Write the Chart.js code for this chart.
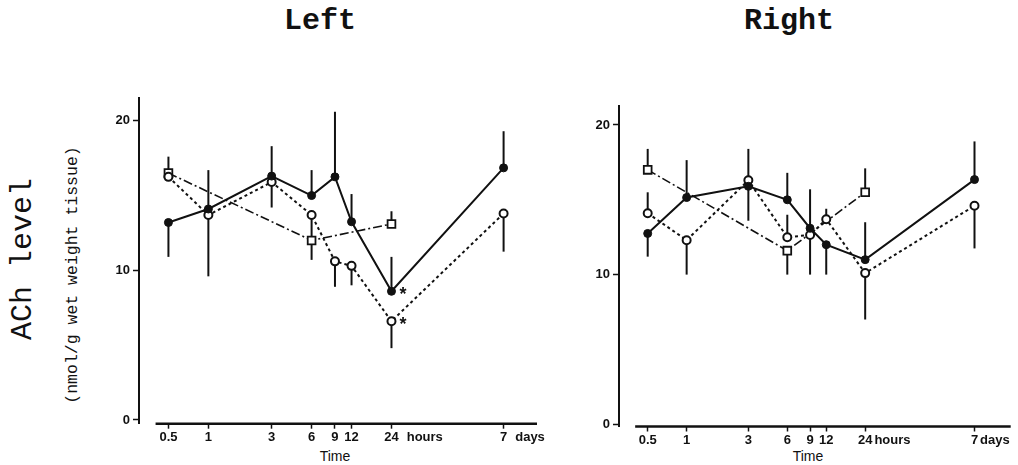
<!DOCTYPE html>
<html>
<head>
<meta charset="utf-8">
<script src="https://cdn.jsdelivr.net/npm/chart.js@4.4.1/dist/chart.umd.min.js"></script>
<style>
  html, body { margin: 0; padding: 0; background: #fff; }
  #page { position: relative; width: 1018px; height: 465px; overflow: hidden; color: #111; }
  .panel { position: absolute; top: 0; height: 465px; }
  .title { position: absolute; top: 4px; font: bold 30px 'Liberation Mono', monospace; transform: translateX(-50%); white-space: nowrap; }
  .rot { position: absolute; transform: translate(-50%, -50%) rotate(-90deg); white-space: nowrap; font-family: 'Liberation Mono', monospace; }
  .xtitle { position: absolute; top: 448px; font: 14px 'Liberation Sans', sans-serif; transform: translateX(-50%); }
</style>
</head>
<body>
<div id="page">
  <div class="title" style="left:320px">Left</div>
  <div class="title" style="left:789px">Right</div>
  <div class="rot" style="left:23px; top:259px; font-size:30px">ACh level</div>
  <div class="rot" style="left:72px; top:275px; font-size:16.5px">(nmol/g wet weight tissue)</div>
  <div class="xtitle" style="left:335px">Time</div>
  <div class="xtitle" style="left:808px">Time</div>
  <div class="panel" style="left:0; width:560px"><canvas id="left"></canvas></div>
  <div class="panel" style="left:560px; width:458px"><canvas id="right"></canvas></div>
</div>
<script>
// time after treatment, hours (7 days = 168 h)
const hours = [0.5, 1, 3, 6, 9, 12, 24, 168];
const hourLabels = ['0.5', '1', '3', '6', '9', '12', '24', '7'];
const hourUnits = ['', '', '', '', '', '', 'hours', 'days'];
const squareHours = [0.5, 6, 24];
const yTicks = [0, 10, 20];

// Left — errors are signed: + bar drawn upward, - downward
const leftFilled = [13.2, 14.1, 16.3, 15.0, 16.25, 13.25, 8.6, 16.85];
const leftFilledErr = [-2.3, 2.6, 2.0, 1.7, 4.35, 1.85, 2.3, 2.45];
const leftOpen = [16.25, 13.7, 15.9, 13.7, 10.6, 10.3, 6.6, 13.8];
const leftOpenErr = [0, -4.1, -1.7, -3.0, -1.7, -1.3, -1.8, -2.55];
const leftSquare = [16.5, 12.0, 13.1];
const leftSquareErr = [1.1, 0, 0.85];
const leftStars = [6];

// Right
const rightFilled = [12.75, 15.15, 15.9, 15.0, 13.1, 12.0, 11.0, 16.35];
const rightFilledErr = [-1.55, 2.5, -2.3, 1.8, 2.6, -2.0, 2.5, 2.55];
const rightOpen = [14.1, 12.3, 16.3, 12.5, 12.65, 13.7, 10.1, 14.6];
const rightOpenErr = [1.4, -2.3, 2.1, 1.5, -2.65, 0.7, -3.1, -2.85];
const rightSquare = [17.0, 11.6, 15.5];
const rightSquareErr = [1.4, -1.6, 1.6];
const rightStars = [];

const INK = '#111';
const TICK_FONT = { family: "'Liberation Sans', sans-serif", size: 13, weight: 'bold' };

const extras = {
  id: 'extras',
  beforeDatasetsDraw(chart) {
    const { ctx, chartArea, scales: { x, y } } = chart;
    ctx.save();
    ctx.strokeStyle = INK;
    ctx.lineWidth = 2;
    // error bars, one-sided
    chart.data.datasets.forEach((ds) => {
      ds.data.forEach((p, i) => {
        const e = ds.errors[i];
        if (!e) return;
        const px = x.getPixelForValue(p.x);
        ctx.beginPath();
        ctx.moveTo(px, y.getPixelForValue(p.y));
        ctx.lineTo(px, y.getPixelForValue(p.y + e));
        ctx.stroke();
      });
    });
    // time axis line, starts a bit right of the y axis
    ctx.lineWidth = 2.5;
    ctx.beginPath();
    ctx.moveTo(x.getPixelForValue(chart.options.axisStart), chartArea.bottom);
    ctx.lineTo(chartArea.right, chartArea.bottom);
    ctx.stroke();
    ctx.restore();
  },
  afterDatasetsDraw(chart) {
    const { ctx, scales: { x, y } } = chart;
    ctx.save();
    ctx.fillStyle = INK;
    ctx.font = "bold 18px 'Liberation Sans', sans-serif";
    ctx.textBaseline = 'middle';
    chart.data.datasets.forEach((ds) => {
      (ds.stars || []).forEach((i) => {
        const p = ds.data[i];
        ctx.fillText('*', x.getPixelForValue(p.x) + 8, y.getPixelForValue(p.y) + 4);
      });
    });
    // units after the "24" and "7" tick labels
    const xo = chart.options.scales.x;
    ctx.font = `${TICK_FONT.weight} ${TICK_FONT.size}px ${TICK_FONT.family}`;
    ctx.textBaseline = 'middle';
    const ty = x.top + xo.grid.tickLength + xo.ticks.padding + TICK_FONT.size * 1.2 / 2;
    hours.forEach((h, i) => {
      if (!hourUnits[i]) return;
      const w = ctx.measureText(hourLabels[i]).width;
      ctx.fillText(hourUnits[i], x.getPixelForValue(h) + w / 2 + chart.options.unitGap, ty);
    });
    ctx.restore();
  },
};

function makePanel(canvas, d) {
  const datasets = [
    {
      label: 'filled',
      data: hours.map((h, i) => ({ x: h, y: d.filled[i] })),
      errors: d.filledErr,
      stars: d.stars,
      borderColor: INK,
      borderWidth: 2,
      pointRadius: 4,
      pointBackgroundColor: INK,
      pointBorderColor: INK,
      pointBorderWidth: 1,
    },
    {
      label: 'open',
      data: hours.map((h, i) => ({ x: h, y: d.open[i] })),
      errors: d.openErr,
      stars: d.stars,
      borderColor: INK,
      borderWidth: 2,
      borderDash: [3, 3],
      pointRadius: 4,
      pointBackgroundColor: '#fff',
      pointBorderColor: INK,
      pointBorderWidth: 2,
    },
    {
      label: 'square',
      data: squareHours.map((h, i) => ({ x: h, y: d.square[i] })),
      errors: d.squareErr,
      borderColor: INK,
      borderWidth: 1.6,
      borderDash: [9, 3, 2, 3],
      pointStyle: 'rect',
      pointRadius: 5.5,
      pointBackgroundColor: '#fff',
      pointBorderColor: INK,
      pointBorderWidth: 1.8,
    },
  ];

  return new Chart(canvas, {
    type: 'line',
    data: { datasets },
    plugins: [extras],
    options: {
      responsive: true,
      maintainAspectRatio: false,
      animation: false,
      axisStart: 0.4,
      unitGap: d.unitGap,
      layout: { padding: d.padding },
      plugins: { legend: { display: false }, tooltip: { enabled: false } },
      scales: {
        x: {
          type: 'logarithmic',
          min: d.xMin,
          max: d.xMax,
          afterBuildTicks: (s) => { s.ticks = hours.map((v) => ({ value: v })); },
          afterFit: (s) => { s.height = d.xHeight; },
          border: { display: false },
          grid: { drawOnChartArea: false, drawTicks: true, tickLength: 5, tickColor: INK, tickWidth: 1.5 },
          ticks: {
            autoSkip: false,
            maxRotation: 0,
            padding: 1,
            color: INK,
            font: TICK_FONT,
            callback: (v, i) => hourLabels[i],
          },
        },
        y: {
          min: d.yMin,
          max: d.yMax,
          afterBuildTicks: (s) => { s.ticks = yTicks.map((v) => ({ value: v })); },
          afterFit: (s) => { s.width = 40; },
          border: { display: true, color: INK, width: 2 },
          grid: { drawOnChartArea: false, drawTicks: true, tickLength: 6, tickColor: INK, tickWidth: 1.5 },
          ticks: { padding: 3, color: INK, font: TICK_FONT },
        },
      },
    },
  });
}

makePanel(document.getElementById('left'), {
  filled: leftFilled, filledErr: leftFilledErr,
  open: leftOpen, openErr: leftOpenErr,
  square: leftSquare, squareErr: leftSquareErr,
  stars: leftStars,
  xMin: 0.3, xMax: 300, yMin: -0.25, yMax: 21.5,
  xHeight: 40, unitGap: 8,
  padding: { left: 99, right: 23, top: 98.3, bottom: 1.3 },
});

makePanel(document.getElementById('right'), {
  filled: rightFilled, filledErr: rightFilledErr,
  open: rightOpen, openErr: rightOpenErr,
  square: rightSquare, squareErr: rightSquareErr,
  stars: rightStars,
  xMin: 0.328, xMax: 320, yMin: -0.15, yMax: 21.3,
  xHeight: 38, unitGap: 2,
  padding: { left: 19, right: 3, top: 105.5, bottom: 0.5 },
});
</script>
</body>
</html>
